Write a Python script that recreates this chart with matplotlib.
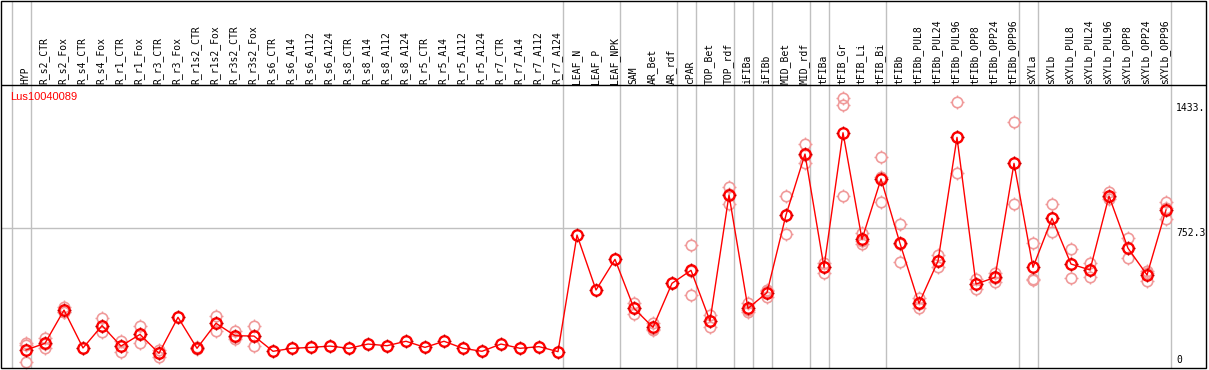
import numpy as np
import matplotlib
matplotlib.use('Agg')
import matplotlib.pyplot as plt
from matplotlib.patches import Rectangle
from matplotlib.path import Path

# Sample names (column headers)
samples = ['HYP', 'R_s2_CTR', 'R_s2_Fox', 'R_s4_CTR', 'R_s4_Fox', 'R_r1_CTR', 'R_r1_Fox',
           'R_r3_CTR', 'R_r3_Fox', 'R_r1s2_CTR', 'R_r1s2_Fox', 'R_r3s2_CTR', 'R_r3s2_Fox',
           'R_s6_CTR', 'R_s6_A14', 'R_s6_A112', 'R_s6_A124', 'R_s8_CTR', 'R_s8_A14',
           'R_s8_A112', 'R_s8_A124', 'R_r5_CTR', 'R_r5_A14', 'R_r5_A112', 'R_r5_A124',
           'R_r7_CTR', 'R_r7_A14', 'R_r7_A112', 'R_r7_A124', 'LEAF_N', 'LEAF_P', 'LEAF_NPK',
           'SAM', 'AR_Bet', 'AR_rdf', 'cPAR', 'TOP_Bet', 'TOP_rdf', 'iFIBa', 'iFIBb',
           'MID_Bet', 'MID_rdf', 'tFIBa', 'tFIB_Gr', 'tFIB_Li', 'tFIB_Bi', 'tFIBb',
           'tFIBb_PUL8', 'tFIBb_PUL24', 'tFIBb_PUL96', 'tFIBb_OPP8', 'tFIBb_OPP24',
           'tFIBb_OPP96', 'sXYLa', 'sXYLb', 'sXYLb_PUL8', 'sXYLb_PUL24', 'sXYLb_PUL96',
           'sXYLb_OPP8', 'sXYLb_OPP24', 'sXYLb_OPP96']

# mean expression per sample
means = [97, 133, 312, 108, 228, 118, 181, 79, 273, 106, 241, 174, 172,
         90, 106, 111, 118, 106, 129, 120, 144, 111, 144, 106, 90, 129, 106, 115, 88,
         716, 420, 585, 321, 219, 456, 526, 253, 932, 321, 406, 824, 1152, 542, 1267,
         693, 1018, 671, 348, 576, 1242, 452, 488, 1102, 542, 806, 560, 528, 926, 645,
         501, 851]

nan = np.nan
# replicates (nan = not visible / hidden under mean)
rep_a = [134, 160, 330, 108, 268, 145, 228, 97, 273, 115, 280, 201, 226,
         nan, nan, nan, nan, nan, nan, nan, nan, nan, nan, nan, nan, nan, nan, nan, nan,
         nan, nan, nan, 352, 241, 456, 662, 285, 976, 348, 416, 926, 1205, 567, 1452,
         729, 1135, 774, 375, 608, 1433.6, 478, 513, 1323, 671, 881, 639, 567, 950, 698,
         524, 892]
rep_b = [34, 109, 303, nan, 192, 88, 133, 61, nan, 100, 201, 155, 118,
         nan, nan, nan, nan, nan, nan, nan, nan, nan, nan, nan, nan, nan, nan, nan, nan,
         nan, nan, nan, 289, 205, nan, 393, 219, 883, 303, 384, 722, 1102, 513, 1416,
         666, 892, 569, 325, 546, 1048, 424, 465, 881, 479, 731, 483, 488, 908, 591,
         470, 801]
rep_c = [123, 130, 303, nan, 224, 121, 182, 79, nan, nan, 242, 166, 172,
         nan, nan, nan, nan, nan, nan, nan, nan, nan, nan, nan, nan, nan, nan, nan, nan,
         nan, nan, nan, 322, 211, nan, 523, 255, 937, 312, 418, 824, 1149, 546, 926,
         684, 1027, 670, 344, 574, 1244, 454, 486, 1102, 476, 806, 558, 529, 920, 646,
         509, 860]

# group separators drawn after these column indices
sep_after = [-1, 0, 28, 31, 34, 35, 37, 38, 39, 41, 42, 45, 52, 53, 60]

gene = 'Lus10040089'
mid_value = 752.3
max_label = '1433.'

W, H = 1209, 370
fig = plt.figure(figsize=(W / 100, H / 100), dpi=100)
ax = fig.add_axes([0, 0, 1, 1])
ax.set_axis_off()

# pixel layout helpers
x0, dx = 26, 19          # first column pixel, column spacing
ybase = 368              # pixel row of value 0
s = (ybase - 228.3) / mid_value   # pixels per unit


def cx(px):
    return (px - x0) / dx


def vy(py):
    return (ybase - py) / s


ax.set_xlim(cx(0), cx(W))
ax.set_ylim(vy(H), vy(0))

grey = '#c0c0c0'
x = np.arange(len(samples))

# frame
frame = Rectangle((cx(1), vy(368)), cx(1206) - cx(1), vy(0.5) - vy(368),
                  fill=False, ec='black', lw=1, zorder=6)
ax.add_patch(frame)
ax.hlines(vy(85), cx(1), cx(1206), color='black', lw=1, zorder=6)

# separators and mid grid line
ax.vlines(np.array(sep_after) + 0.25, vy(368), vy(0.5), color=grey, lw=1, zorder=1)
ax.hlines(mid_value, cx(1), cx(1170), color=grey, lw=1, zorder=1)

# header labels
for i, name in enumerate(samples):
    ax.text(i - 0.05, vy(83.5), name, rotation=90, ha='center', va='bottom',
            family='DejaVu Sans Mono', fontsize=7, color='black')

ax.text(cx(10), vy(97), gene, color='red', fontsize=8, ha='left', va='center',
        family='Liberation Sans')

# little ticks around the circle markers
r, t = 1.0, 1.4
ticks = Path([(0, r), (0, t), (0, -r), (0, -t), (r, 0), (t, 0), (-r, 0), (-t, 0)],
             [Path.MOVETO, Path.LINETO] * 4)

# replicates
pink = '#f09a9a'
for rep in (rep_a, rep_b, rep_c):
    ax.plot(x, rep, ls='none', marker='o', ms=7.5, mfc='none', mec=pink, mew=1.2, zorder=2)
    ax.plot(x, rep, ls='none', marker=ticks, ms=10.5, mec=pink, mew=1.0, zorder=2)

# means
ax.plot(x, means, color='red', lw=1, zorder=3)
ax.plot(x, means, ls='none', marker='o', ms=7.5, mfc='none', mec='red', mew=1.7, zorder=4)
ax.plot(x, means, ls='none', marker=ticks, ms=10.5, mec='#c00000', mew=1.0, zorder=4)

# value labels on the right
lx = cx(1176)
ax.text(lx, vy(103), max_label, ha='left', va='top', family='DejaVu Sans Mono', fontsize=7)
ax.text(lx, mid_value, '%.1f' % mid_value, ha='left', va='top',
        family='DejaVu Sans Mono', fontsize=7)
ax.text(lx, vy(365), '0', ha='left', va='bottom', family='DejaVu Sans Mono', fontsize=7)

fig.savefig('out.png', dpi=100)
